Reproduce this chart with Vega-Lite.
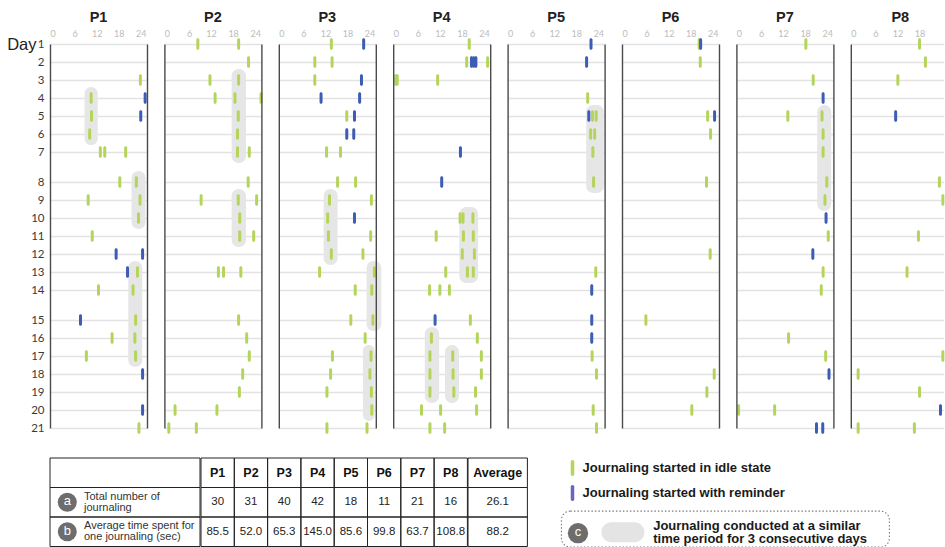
{
"$schema": "https://vega.github.io/schema/vega-lite/v6.json",
"background": "white",
"padding": {"left": 6, "top": 9, "right": 0, "bottom": 0},
"spacing": 21,
"resolve": {"scale": {"color": "independent"}},
"config": {
  "view": {"stroke": null},
  "font": "Liberation Sans",
  "title": {"fontSize": 14.5, "fontWeight": "bold", "font": "Liberation Sans", "color": "#222", "offset": 4, "anchor": "middle", "frame": "group"},
  "axisX": {"ticks": false, "domain": false, "tickSize": 0, "labelFont": "Lato", "labelFontSize": 9, "labelColor": "#bcbcbc", "labelPadding": 2, "labelFlush": false, "labelOverlap": false, "gridWidth": 1.4},
  "axisY": {"ticks": false, "domain": false, "tickSize": 0, "grid": true, "gridColor": "#e3e3e3", "gridWidth": 1.3, "labelFont": "Lato", "labelFontSize": 11.5, "labelColor": "#3a3a3a", "labelPadding": 6, "labelOverlap": false}
},
"datasets": {
  "ticks": [
    {"p":"P1","day":3,"hour":23.9,"type":"i"},
    {"p":"P1","day":4,"hour":10.5,"type":"i"},{"p":"P1","day":4,"hour":25.2,"type":"r"},
    {"p":"P1","day":5,"hour":10.6,"type":"i"},{"p":"P1","day":5,"hour":24.0,"type":"r"},
    {"p":"P1","day":6,"hour":10.1,"type":"i"},
    {"p":"P1","day":7,"hour":13.0,"type":"i"},{"p":"P1","day":7,"hour":14.2,"type":"i"},{"p":"P1","day":7,"hour":19.9,"type":"i"},
    {"p":"P1","day":8,"hour":18.3,"type":"i"},{"p":"P1","day":8,"hour":22.8,"type":"i"},
    {"p":"P1","day":9,"hour":9.7,"type":"i"},{"p":"P1","day":9,"hour":23.8,"type":"i"},
    {"p":"P1","day":10,"hour":23.4,"type":"i"},
    {"p":"P1","day":11,"hour":10.8,"type":"i"},
    {"p":"P1","day":12,"hour":17.3,"type":"r"},{"p":"P1","day":12,"hour":24.5,"type":"r"},
    {"p":"P1","day":13,"hour":20.4,"type":"r"},{"p":"P1","day":13,"hour":23.1,"type":"i"},
    {"p":"P1","day":14,"hour":12.5,"type":"i"},{"p":"P1","day":14,"hour":21.9,"type":"i"},
    {"p":"P1","day":15,"hour":7.6,"type":"r"},{"p":"P1","day":15,"hour":22.6,"type":"i"},
    {"p":"P1","day":16,"hour":16.2,"type":"i"},{"p":"P1","day":16,"hour":22.4,"type":"i"},
    {"p":"P1","day":17,"hour":9.2,"type":"i"},{"p":"P1","day":17,"hour":22.6,"type":"i"},
    {"p":"P1","day":18,"hour":24.5,"type":"r"},
    {"p":"P1","day":20,"hour":24.5,"type":"r"},
    {"p":"P1","day":21,"hour":23.5,"type":"i"},

    {"p":"P2","day":1,"hour":8.4,"type":"i"},{"p":"P2","day":1,"hour":19.5,"type":"i"},
    {"p":"P2","day":2,"hour":22.2,"type":"i"},
    {"p":"P2","day":3,"hour":11.7,"type":"i"},{"p":"P2","day":3,"hour":19.5,"type":"i"},
    {"p":"P2","day":4,"hour":13.1,"type":"i"},{"p":"P2","day":4,"hour":18.5,"type":"i"},{"p":"P2","day":4,"hour":25.6,"type":"i"},
    {"p":"P2","day":5,"hour":19.4,"type":"i"},
    {"p":"P2","day":6,"hour":19.2,"type":"i"},
    {"p":"P2","day":7,"hour":19.2,"type":"i"},{"p":"P2","day":7,"hour":22.4,"type":"i"},
    {"p":"P2","day":8,"hour":22.1,"type":"i"},
    {"p":"P2","day":9,"hour":9.3,"type":"i"},{"p":"P2","day":9,"hour":19.4,"type":"i"},{"p":"P2","day":9,"hour":24.4,"type":"i"},
    {"p":"P2","day":10,"hour":19.8,"type":"i"},
    {"p":"P2","day":11,"hour":19.8,"type":"i"},{"p":"P2","day":11,"hour":23.6,"type":"i"},
    {"p":"P2","day":13,"hour":14.0,"type":"i"},{"p":"P2","day":13,"hour":15.4,"type":"i"},{"p":"P2","day":13,"hour":20.1,"type":"i"},
    {"p":"P2","day":15,"hour":19.5,"type":"i"},
    {"p":"P2","day":16,"hour":21.7,"type":"i"},
    {"p":"P2","day":17,"hour":22.4,"type":"i"},
    {"p":"P2","day":18,"hour":20.6,"type":"i"},
    {"p":"P2","day":19,"hour":19.7,"type":"i"},
    {"p":"P2","day":20,"hour":2.2,"type":"i"},{"p":"P2","day":20,"hour":13.6,"type":"i"},
    {"p":"P2","day":21,"hour":0.5,"type":"i"},{"p":"P2","day":21,"hour":8.0,"type":"i"},

    {"p":"P3","day":1,"hour":13.6,"type":"i"},{"p":"P3","day":1,"hour":22.4,"type":"r"},
    {"p":"P3","day":2,"hour":9.1,"type":"i"},{"p":"P3","day":2,"hour":13.8,"type":"i"},
    {"p":"P3","day":3,"hour":9.1,"type":"i"},{"p":"P3","day":3,"hour":21.8,"type":"r"},
    {"p":"P3","day":4,"hour":10.8,"type":"r"},{"p":"P3","day":4,"hour":21.3,"type":"r"},
    {"p":"P3","day":5,"hour":17.8,"type":"i"},{"p":"P3","day":5,"hour":19.9,"type":"r"},
    {"p":"P3","day":6,"hour":17.8,"type":"r"},{"p":"P3","day":6,"hour":19.7,"type":"r"},
    {"p":"P3","day":7,"hour":12.3,"type":"i"},{"p":"P3","day":7,"hour":16.1,"type":"i"},
    {"p":"P3","day":8,"hour":15.3,"type":"i"},{"p":"P3","day":8,"hour":20.2,"type":"i"},
    {"p":"P3","day":9,"hour":13.1,"type":"i"},{"p":"P3","day":9,"hour":24.5,"type":"i"},
    {"p":"P3","day":10,"hour":12.6,"type":"i"},{"p":"P3","day":10,"hour":19.9,"type":"r"},
    {"p":"P3","day":11,"hour":12.8,"type":"i"},{"p":"P3","day":11,"hour":24.3,"type":"i"},
    {"p":"P3","day":12,"hour":13.6,"type":"i"},{"p":"P3","day":12,"hour":22.2,"type":"i"},
    {"p":"P3","day":13,"hour":10.4,"type":"i"},{"p":"P3","day":13,"hour":25.3,"type":"i"},
    {"p":"P3","day":14,"hour":20.1,"type":"i"},{"p":"P3","day":14,"hour":24.6,"type":"i"},
    {"p":"P3","day":15,"hour":18.9,"type":"i"},{"p":"P3","day":15,"hour":24.9,"type":"i"},
    {"p":"P3","day":16,"hour":22.8,"type":"i"},
    {"p":"P3","day":17,"hour":13.9,"type":"i"},{"p":"P3","day":17,"hour":24.4,"type":"i"},
    {"p":"P3","day":18,"hour":13.4,"type":"i"},{"p":"P3","day":18,"hour":24.1,"type":"i"},
    {"p":"P3","day":19,"hour":12.4,"type":"i"},{"p":"P3","day":19,"hour":24.5,"type":"i"},
    {"p":"P3","day":20,"hour":24.6,"type":"i"},
    {"p":"P3","day":21,"hour":12.4,"type":"i"},{"p":"P3","day":21,"hour":23.3,"type":"i"},

    {"p":"P4","day":1,"hour":20.0,"type":"i"},
    {"p":"P4","day":2,"hour":19.3,"type":"i"},{"p":"P4","day":2,"hour":20.6,"type":"r"},{"p":"P4","day":2,"hour":21.2,"type":"r"},{"p":"P4","day":2,"hour":21.8,"type":"r"},{"p":"P4","day":2,"hour":25.0,"type":"i"},
    {"p":"P4","day":3,"hour":0.0,"type":"i"},{"p":"P4","day":3,"hour":0.4,"type":"i"},{"p":"P4","day":3,"hour":11.4,"type":"i"},
    {"p":"P4","day":7,"hour":17.6,"type":"r"},
    {"p":"P4","day":8,"hour":12.5,"type":"r"},
    {"p":"P4","day":10,"hour":17.5,"type":"i"},{"p":"P4","day":10,"hour":18.3,"type":"i"},{"p":"P4","day":10,"hour":21.0,"type":"i"},
    {"p":"P4","day":11,"hour":11.0,"type":"i"},{"p":"P4","day":11,"hour":18.4,"type":"i"},{"p":"P4","day":11,"hour":21.1,"type":"i"},
    {"p":"P4","day":12,"hour":18.1,"type":"i"},{"p":"P4","day":12,"hour":21.4,"type":"i"},
    {"p":"P4","day":13,"hour":13.6,"type":"i"},{"p":"P4","day":13,"hour":19.5,"type":"i"},{"p":"P4","day":13,"hour":21.1,"type":"i"},
    {"p":"P4","day":14,"hour":9.2,"type":"i"},{"p":"P4","day":14,"hour":12.0,"type":"i"},{"p":"P4","day":14,"hour":14.6,"type":"i"},
    {"p":"P4","day":15,"hour":10.7,"type":"r"},{"p":"P4","day":15,"hour":20.3,"type":"i"},
    {"p":"P4","day":16,"hour":9.7,"type":"i"},{"p":"P4","day":16,"hour":22.2,"type":"i"},
    {"p":"P4","day":17,"hour":9.3,"type":"i"},{"p":"P4","day":17,"hour":15.5,"type":"i"},{"p":"P4","day":17,"hour":23.3,"type":"i"},
    {"p":"P4","day":18,"hour":9.3,"type":"i"},{"p":"P4","day":18,"hour":15.6,"type":"i"},{"p":"P4","day":18,"hour":23.3,"type":"i"},
    {"p":"P4","day":19,"hour":9.3,"type":"i"},{"p":"P4","day":19,"hour":15.8,"type":"i"},{"p":"P4","day":19,"hour":21.7,"type":"i"},
    {"p":"P4","day":20,"hour":7.0,"type":"i"},{"p":"P4","day":20,"hour":12.2,"type":"i"},{"p":"P4","day":20,"hour":22.0,"type":"i"},
    {"p":"P4","day":21,"hour":9.3,"type":"i"},{"p":"P4","day":21,"hour":13.3,"type":"i"},

    {"p":"P5","day":1,"hour":22.0,"type":"r"},
    {"p":"P5","day":2,"hour":20.8,"type":"r"},
    {"p":"P5","day":4,"hour":21.1,"type":"i"},
    {"p":"P5","day":5,"hour":21.4,"type":"r"},{"p":"P5","day":5,"hour":22.4,"type":"i"},{"p":"P5","day":5,"hour":23.4,"type":"i"},
    {"p":"P5","day":6,"hour":21.9,"type":"i"},{"p":"P5","day":6,"hour":23.0,"type":"i"},
    {"p":"P5","day":7,"hour":22.5,"type":"i"},
    {"p":"P5","day":8,"hour":22.7,"type":"i"},
    {"p":"P5","day":13,"hour":23.3,"type":"i"},
    {"p":"P5","day":14,"hour":22.2,"type":"r"},
    {"p":"P5","day":15,"hour":22.2,"type":"r"},
    {"p":"P5","day":16,"hour":22.2,"type":"r"},
    {"p":"P5","day":17,"hour":22.3,"type":"i"},
    {"p":"P5","day":18,"hour":23.5,"type":"i"},
    {"p":"P5","day":20,"hour":22.6,"type":"i"},
    {"p":"P5","day":21,"hour":23.5,"type":"i"},

    {"p":"P6","day":1,"hour":20.3,"type":"i"},{"p":"P6","day":1,"hour":20.7,"type":"r"},
    {"p":"P6","day":2,"hour":20.6,"type":"i"},
    {"p":"P6","day":5,"hour":22.6,"type":"i"},{"p":"P6","day":5,"hour":24.5,"type":"r"},
    {"p":"P6","day":6,"hour":23.4,"type":"i"},
    {"p":"P6","day":8,"hour":22.3,"type":"i"},
    {"p":"P6","day":12,"hour":23.3,"type":"i"},
    {"p":"P6","day":15,"hour":5.8,"type":"i"},
    {"p":"P6","day":18,"hour":24.4,"type":"i"},
    {"p":"P6","day":19,"hour":22.4,"type":"i"},
    {"p":"P6","day":20,"hour":18.3,"type":"i"},

    {"p":"P7","day":1,"hour":18.2,"type":"i"},
    {"p":"P7","day":3,"hour":20.2,"type":"i"},
    {"p":"P7","day":4,"hour":22.9,"type":"r"},
    {"p":"P7","day":5,"hour":13.3,"type":"i"},{"p":"P7","day":5,"hour":22.6,"type":"i"},
    {"p":"P7","day":6,"hour":22.9,"type":"i"},
    {"p":"P7","day":7,"hour":22.9,"type":"i"},
    {"p":"P7","day":8,"hour":23.9,"type":"i"},
    {"p":"P7","day":9,"hour":23.4,"type":"i"},
    {"p":"P7","day":10,"hour":23.7,"type":"r"},
    {"p":"P7","day":11,"hour":24.3,"type":"i"},
    {"p":"P7","day":12,"hour":20.1,"type":"r"},
    {"p":"P7","day":13,"hour":22.9,"type":"i"},
    {"p":"P7","day":14,"hour":22.4,"type":"i"},
    {"p":"P7","day":16,"hour":13.5,"type":"i"},
    {"p":"P7","day":17,"hour":23.6,"type":"i"},
    {"p":"P7","day":18,"hour":24.5,"type":"r"},
    {"p":"P7","day":20,"hour":-0.1,"type":"i"},{"p":"P7","day":20,"hour":9.7,"type":"i"},
    {"p":"P7","day":21,"hour":21.1,"type":"r"},{"p":"P7","day":21,"hour":22.8,"type":"r"},

    {"p":"P8","day":1,"hour":18.0,"type":"i"},
    {"p":"P8","day":2,"hour":19.6,"type":"i"},
    {"p":"P8","day":3,"hour":12.1,"type":"i"},
    {"p":"P8","day":5,"hour":11.5,"type":"r"},
    {"p":"P8","day":8,"hour":23.4,"type":"i"},
    {"p":"P8","day":9,"hour":24.35,"type":"i"},
    {"p":"P8","day":11,"hour":17.7,"type":"i"},
    {"p":"P8","day":13,"hour":14.6,"type":"i"},
    {"p":"P8","day":17,"hour":24.35,"type":"i"},
    {"p":"P8","day":18,"hour":1.3,"type":"i"},
    {"p":"P8","day":19,"hour":18.0,"type":"i"},
    {"p":"P8","day":20,"hour":23.7,"type":"r"},
    {"p":"P8","day":21,"hour":1.3,"type":"i"},{"p":"P8","day":21,"hour":16.6,"type":"i"}
  ],
  "highlights": [
    {"p":"P1","day":4,"day2":6,"hour":8.7,"hour2":12.3},
    {"p":"P1","day":8,"day2":10,"hour":21.5,"hour2":25.3},
    {"p":"P1","day":13,"day2":17,"hour":20.6,"hour2":24.4},
    {"p":"P2","day":3,"day2":7,"hour":17.6,"hour2":21.5},
    {"p":"P2","day":9,"day2":11,"hour":17.6,"hour2":21.5},
    {"p":"P3","day":9,"day2":12,"hour":11.5,"hour2":15.3},
    {"p":"P3","day":13,"day2":15,"hour":23.2,"hour2":27.2},
    {"p":"P3","day":17,"day2":20,"hour":22.2,"hour2":25.4},
    {"p":"P4","day":10,"day2":13,"hour":17.3,"hour2":22.4},
    {"p":"P4","day":16,"day2":19,"hour":7.9,"hour2":11.8},
    {"p":"P4","day":17,"day2":19,"hour":13.4,"hour2":17.2},
    {"p":"P5","day":5,"day2":8,"hour":20.7,"hour2":25.5},
    {"p":"P7","day":5,"day2":9,"hour":21.3,"hour2":25.1}
  ],
  "table": [
    {"col":"P1","row":"h","value":"P1"},{"col":"P1","row":"a","value":"30"},{"col":"P1","row":"b","value":"85.5"},
    {"col":"P2","row":"h","value":"P2"},{"col":"P2","row":"a","value":"31"},{"col":"P2","row":"b","value":"52.0"},
    {"col":"P3","row":"h","value":"P3"},{"col":"P3","row":"a","value":"40"},{"col":"P3","row":"b","value":"65.3"},
    {"col":"P4","row":"h","value":"P4"},{"col":"P4","row":"a","value":"42"},{"col":"P4","row":"b","value":"145.0"},
    {"col":"P5","row":"h","value":"P5"},{"col":"P5","row":"a","value":"18"},{"col":"P5","row":"b","value":"85.6"},
    {"col":"P6","row":"h","value":"P6"},{"col":"P6","row":"a","value":"11"},{"col":"P6","row":"b","value":"99.8"},
    {"col":"P7","row":"h","value":"P7"},{"col":"P7","row":"a","value":"21"},{"col":"P7","row":"b","value":"63.7"},
    {"col":"P8","row":"h","value":"P8"},{"col":"P8","row":"a","value":"16"},{"col":"P8","row":"b","value":"108.8"},
    {"col":"Average","row":"h","value":"Average"},{"col":"Average","row":"a","value":"26.1"},{"col":"Average","row":"b","value":"88.2"}
  ],
  "rowlabels": [
    {"col":"label","row":"h","letter":"","label":""},
    {"col":"label","row":"a","letter":"a","label":"Total number of\njournaling"},
    {"col":"label","row":"b","letter":"b","label":"Average time spent for\none journaling (sec)"}
  ],
  "legend": [
    {"item":"idle","label":"Journaling started in idle state"},
    {"item":"reminder","label":"Journaling started with reminder"}
  ],
  "note": [
    {"letter":"c","label":"Journaling conducted at a similar\ntime period for 3 consecutive days"}
  ]
},
"vconcat": [
  {"hconcat": [
    {"width": 97, "height": 396, "title": {"text": "P1"},
     "encoding": {
       "x": {"field": "hour", "type": "quantitative", "scale": {"domain": [-0.7, 25.7], "nice": false, "zero": false},
             "axis": {"orient": "top", "values": [-0.7,0,6,12,18,24,25.7], "grid": true, "zindex": 1, "title": null,
                      "labelExpr": "datum.value < 0 || datum.value > 24.5 ? '' : datum.label",
                      "gridColor": {"condition": {"test": "datum.value < 0 || datum.value > 24.5", "value": "#4a4a4a"}, "value": "transparent"}}},
       "y": {"field": "day", "type": "quantitative", "scale": {"domain": [1,7,8,14,15,21], "range": [4,112,142,250,280,388], "nice": false, "zero": false},
             "axis": {"values": [1,2,3,4,5,6,7,8,9,10,11,12,13,14,15,16,17,18,19,20,21], "title": "Day", "titleAngle": 0, "titleAlign": "right", "titleBaseline": "middle", "titleX": -14, "titleY": 4, "titleFontSize": 16.5, "titleFontWeight": "normal", "titleFont": "Liberation Sans", "titleColor": "#222"}}
     },
     "layer": [
       {"data": {"name": "highlights"}, "transform": [{"filter": "datum.p === 'P1'"}], "mark": {"type": "rect", "cornerRadius": 7, "fill": "#e6e6e6", "yOffset": -11, "y2Offset": 11}, "encoding": {"x2": {"field": "hour2"}, "y2": {"field": "day2"}}},
       {"data": {"name": "ticks"}, "transform": [{"filter": "datum.p === 'P1'"}], "mark": {"type": "tick", "orient": "vertical", "thickness": 3, "size": 11.5, "cornerRadius": 1.5, "opacity": 1}, "encoding": {"color": {"field": "type", "type": "nominal", "scale": {"domain": ["i","r"], "range": ["#b5d45a","#3c5cb5"]}, "legend": null}}}
     ]},
    {"width": 97, "height": 396, "title": {"text": "P2"},
     "encoding": {
       "x": {"field": "hour", "type": "quantitative", "scale": {"domain": [-0.7, 25.7], "nice": false, "zero": false},
             "axis": {"orient": "top", "values": [-0.7,0,6,12,18,24,25.7], "grid": true, "zindex": 1, "title": null,
                      "labelExpr": "datum.value < 0 || datum.value > 24.5 ? '' : datum.label",
                      "gridColor": {"condition": {"test": "datum.value < 0 || datum.value > 24.5", "value": "#4a4a4a"}, "value": "transparent"}}},
       "y": {"field": "day", "type": "quantitative", "scale": {"domain": [1,7,8,14,15,21], "range": [4,112,142,250,280,388], "nice": false, "zero": false},
             "axis": {"values": [1,2,3,4,5,6,7,8,9,10,11,12,13,14,15,16,17,18,19,20,21], "labels": false, "title": null}}
     },
     "layer": [
       {"data": {"name": "highlights"}, "transform": [{"filter": "datum.p === 'P2'"}], "mark": {"type": "rect", "cornerRadius": 7, "fill": "#e6e6e6", "yOffset": -11, "y2Offset": 11}, "encoding": {"x2": {"field": "hour2"}, "y2": {"field": "day2"}}},
       {"data": {"name": "ticks"}, "transform": [{"filter": "datum.p === 'P2'"}], "mark": {"type": "tick", "orient": "vertical", "thickness": 3, "size": 11.5, "cornerRadius": 1.5, "opacity": 1}, "encoding": {"color": {"field": "type", "type": "nominal", "scale": {"domain": ["i","r"], "range": ["#b5d45a","#3c5cb5"]}, "legend": null}}}
     ]},
    {"width": 97, "height": 396, "title": {"text": "P3"},
     "encoding": {
       "x": {"field": "hour", "type": "quantitative", "scale": {"domain": [-0.7, 25.7], "nice": false, "zero": false},
             "axis": {"orient": "top", "values": [-0.7,0,6,12,18,24,25.7], "grid": true, "zindex": 1, "title": null,
                      "labelExpr": "datum.value < 0 || datum.value > 24.5 ? '' : datum.label",
                      "gridColor": {"condition": {"test": "datum.value < 0 || datum.value > 24.5", "value": "#4a4a4a"}, "value": "transparent"}}},
       "y": {"field": "day", "type": "quantitative", "scale": {"domain": [1,7,8,14,15,21], "range": [4,112,142,250,280,388], "nice": false, "zero": false},
             "axis": {"values": [1,2,3,4,5,6,7,8,9,10,11,12,13,14,15,16,17,18,19,20,21], "labels": false, "title": null}}
     },
     "layer": [
       {"data": {"name": "highlights"}, "transform": [{"filter": "datum.p === 'P3'"}], "mark": {"type": "rect", "cornerRadius": 7, "fill": "#e6e6e6", "yOffset": -11, "y2Offset": 11}, "encoding": {"x2": {"field": "hour2"}, "y2": {"field": "day2"}}},
       {"data": {"name": "ticks"}, "transform": [{"filter": "datum.p === 'P3'"}], "mark": {"type": "tick", "orient": "vertical", "thickness": 3, "size": 11.5, "cornerRadius": 1.5, "opacity": 1}, "encoding": {"color": {"field": "type", "type": "nominal", "scale": {"domain": ["i","r"], "range": ["#b5d45a","#3c5cb5"]}, "legend": null}}}
     ]},
    {"width": 97, "height": 396, "title": {"text": "P4"},
     "encoding": {
       "x": {"field": "hour", "type": "quantitative", "scale": {"domain": [-0.7, 25.7], "nice": false, "zero": false},
             "axis": {"orient": "top", "values": [-0.7,0,6,12,18,24,25.7], "grid": true, "zindex": 1, "title": null,
                      "labelExpr": "datum.value < 0 || datum.value > 24.5 ? '' : datum.label",
                      "gridColor": {"condition": {"test": "datum.value < 0 || datum.value > 24.5", "value": "#4a4a4a"}, "value": "transparent"}}},
       "y": {"field": "day", "type": "quantitative", "scale": {"domain": [1,7,8,14,15,21], "range": [4,112,142,250,280,388], "nice": false, "zero": false},
             "axis": {"values": [1,2,3,4,5,6,7,8,9,10,11,12,13,14,15,16,17,18,19,20,21], "labels": false, "title": null}}
     },
     "layer": [
       {"data": {"name": "highlights"}, "transform": [{"filter": "datum.p === 'P4'"}], "mark": {"type": "rect", "cornerRadius": 7, "fill": "#e6e6e6", "yOffset": -11, "y2Offset": 11}, "encoding": {"x2": {"field": "hour2"}, "y2": {"field": "day2"}}},
       {"data": {"name": "ticks"}, "transform": [{"filter": "datum.p === 'P4'"}], "mark": {"type": "tick", "orient": "vertical", "thickness": 3, "size": 11.5, "cornerRadius": 1.5, "opacity": 1}, "encoding": {"color": {"field": "type", "type": "nominal", "scale": {"domain": ["i","r"], "range": ["#b5d45a","#3c5cb5"]}, "legend": null}}}
     ]},
    {"width": 97, "height": 396, "title": {"text": "P5"},
     "encoding": {
       "x": {"field": "hour", "type": "quantitative", "scale": {"domain": [-0.7, 25.7], "nice": false, "zero": false},
             "axis": {"orient": "top", "values": [-0.7,0,6,12,18,24,25.7], "grid": true, "zindex": 1, "title": null,
                      "labelExpr": "datum.value < 0 || datum.value > 24.5 ? '' : datum.label",
                      "gridColor": {"condition": {"test": "datum.value < 0 || datum.value > 24.5", "value": "#4a4a4a"}, "value": "transparent"}}},
       "y": {"field": "day", "type": "quantitative", "scale": {"domain": [1,7,8,14,15,21], "range": [4,112,142,250,280,388], "nice": false, "zero": false},
             "axis": {"values": [1,2,3,4,5,6,7,8,9,10,11,12,13,14,15,16,17,18,19,20,21], "labels": false, "title": null}}
     },
     "layer": [
       {"data": {"name": "highlights"}, "transform": [{"filter": "datum.p === 'P5'"}], "mark": {"type": "rect", "cornerRadius": 7, "fill": "#e6e6e6", "yOffset": -11, "y2Offset": 11}, "encoding": {"x2": {"field": "hour2"}, "y2": {"field": "day2"}}},
       {"data": {"name": "ticks"}, "transform": [{"filter": "datum.p === 'P5'"}], "mark": {"type": "tick", "orient": "vertical", "thickness": 3, "size": 11.5, "cornerRadius": 1.5, "opacity": 1}, "encoding": {"color": {"field": "type", "type": "nominal", "scale": {"domain": ["i","r"], "range": ["#b5d45a","#3c5cb5"]}, "legend": null}}}
     ]},
    {"width": 97, "height": 396, "title": {"text": "P6"},
     "encoding": {
       "x": {"field": "hour", "type": "quantitative", "scale": {"domain": [-0.7, 25.7], "nice": false, "zero": false},
             "axis": {"orient": "top", "values": [-0.7,0,6,12,18,24,25.7], "grid": true, "zindex": 1, "title": null,
                      "labelExpr": "datum.value < 0 || datum.value > 24.5 ? '' : datum.label",
                      "gridColor": {"condition": {"test": "datum.value < 0 || datum.value > 24.5", "value": "#4a4a4a"}, "value": "transparent"}}},
       "y": {"field": "day", "type": "quantitative", "scale": {"domain": [1,7,8,14,15,21], "range": [4,112,142,250,280,388], "nice": false, "zero": false},
             "axis": {"values": [1,2,3,4,5,6,7,8,9,10,11,12,13,14,15,16,17,18,19,20,21], "labels": false, "title": null}}
     },
     "layer": [
       {"data": {"name": "highlights"}, "transform": [{"filter": "datum.p === 'P6'"}], "mark": {"type": "rect", "cornerRadius": 7, "fill": "#e6e6e6", "yOffset": -11, "y2Offset": 11}, "encoding": {"x2": {"field": "hour2"}, "y2": {"field": "day2"}}},
       {"data": {"name": "ticks"}, "transform": [{"filter": "datum.p === 'P6'"}], "mark": {"type": "tick", "orient": "vertical", "thickness": 3, "size": 11.5, "cornerRadius": 1.5, "opacity": 1}, "encoding": {"color": {"field": "type", "type": "nominal", "scale": {"domain": ["i","r"], "range": ["#b5d45a","#3c5cb5"]}, "legend": null}}}
     ]},
    {"width": 97, "height": 396, "title": {"text": "P7"},
     "encoding": {
       "x": {"field": "hour", "type": "quantitative", "scale": {"domain": [-0.7, 25.7], "nice": false, "zero": false},
             "axis": {"orient": "top", "values": [-0.7,0,6,12,18,24,25.7], "grid": true, "zindex": 1, "title": null,
                      "labelExpr": "datum.value < 0 || datum.value > 24.5 ? '' : datum.label",
                      "gridColor": {"condition": {"test": "datum.value < 0 || datum.value > 24.5", "value": "#4a4a4a"}, "value": "transparent"}}},
       "y": {"field": "day", "type": "quantitative", "scale": {"domain": [1,7,8,14,15,21], "range": [4,112,142,250,280,388], "nice": false, "zero": false},
             "axis": {"values": [1,2,3,4,5,6,7,8,9,10,11,12,13,14,15,16,17,18,19,20,21], "labels": false, "title": null}}
     },
     "layer": [
       {"data": {"name": "highlights"}, "transform": [{"filter": "datum.p === 'P7'"}], "mark": {"type": "rect", "cornerRadius": 7, "fill": "#e6e6e6", "yOffset": -11, "y2Offset": 11}, "encoding": {"x2": {"field": "hour2"}, "y2": {"field": "day2"}}},
       {"data": {"name": "ticks"}, "transform": [{"filter": "datum.p === 'P7'"}], "mark": {"type": "tick", "orient": "vertical", "thickness": 3, "size": 11.5, "cornerRadius": 1.5, "opacity": 1}, "encoding": {"color": {"field": "type", "type": "nominal", "scale": {"domain": ["i","r"], "range": ["#b5d45a","#3c5cb5"]}, "legend": null}}}
     ]},
    {"width": 93, "height": 396, "title": {"text": "P8", "dx": 3},
     "encoding": {
       "x": {"field": "hour", "type": "quantitative", "scale": {"domain": [-0.7, 24.6], "nice": false, "zero": false},
             "axis": {"orient": "top", "values": [-0.7,0,6,12,18], "grid": true, "zindex": 1, "title": null,
                      "labelExpr": "datum.value < 0 ? '' : datum.label",
                      "gridColor": {"condition": {"test": "datum.value < 0", "value": "#4a4a4a"}, "value": "transparent"}}},
       "y": {"field": "day", "type": "quantitative", "scale": {"domain": [1,7,8,14,15,21], "range": [4,112,142,250,280,388], "nice": false, "zero": false},
             "axis": {"values": [1,2,3,4,5,6,7,8,9,10,11,12,13,14,15,16,17,18,19,20,21], "labels": false, "title": null}}
     },
     "layer": [
       {"data": {"name": "highlights"}, "transform": [{"filter": "datum.p === 'P8'"}], "mark": {"type": "rect", "cornerRadius": 7, "fill": "#e6e6e6", "yOffset": -11, "y2Offset": 11}, "encoding": {"x2": {"field": "hour2"}, "y2": {"field": "day2"}}},
       {"data": {"name": "ticks"}, "transform": [{"filter": "datum.p === 'P8'"}], "mark": {"type": "tick", "orient": "vertical", "thickness": 3, "size": 11.5, "cornerRadius": 1.5, "opacity": 1}, "encoding": {"color": {"field": "type", "type": "nominal", "scale": {"domain": ["i","r"], "range": ["#b5d45a","#3c5cb5"]}, "legend": null}}}
     ]}
  ], "spacing": 17.4, "bounds": "flush"},
  {"hconcat": [
    {"width": 150, "height": 88.5,
     "data": {"name": "rowlabels"},
     "encoding": {
       "x": {"field": "col", "type": "nominal", "scale": {"paddingInner": 0, "paddingOuter": 0}, "axis": null},
       "y": {"field": "row", "type": "nominal", "scale": {"domain": ["h","a","b"], "paddingInner": 0, "paddingOuter": 0}, "axis": null}
     },
     "layer": [
       {"mark": {"type": "rect", "filled": false, "stroke": "#222", "strokeWidth": 1}},
       {"transform": [{"filter": "datum.row !== 'h'"}], "mark": {"type": "point", "filled": true, "size": 361, "color": "#6d6d6d", "opacity": 1, "xOffset": -57.7}},
       {"transform": [{"filter": "datum.row !== 'h'"}], "mark": {"type": "text", "color": "white", "fontSize": 13, "baseline": "middle", "xOffset": -57.7, "yOffset": -1}, "encoding": {"text": {"field": "letter"}}},
       {"transform": [{"filter": "datum.row !== 'h'"}], "mark": {"type": "text", "align": "left", "baseline": "middle", "lineBreak": "\n", "lineHeight": 10.6, "fontSize": 11, "color": "#333", "xOffset": -41, "yOffset": -5.3}, "encoding": {"text": {"field": "label"}}}
     ]},
    {"width": 266.4, "height": 88.5,
     "data": {"name": "table"},
     "transform": [{"filter": "datum.col !== 'Average'"}],
     "encoding": {
       "x": {"field": "col", "type": "nominal", "scale": {"domain": ["P1","P2","P3","P4","P5","P6","P7","P8"], "paddingInner": 0, "paddingOuter": 0}, "axis": null},
       "y": {"field": "row", "type": "nominal", "scale": {"domain": ["h","a","b"], "paddingInner": 0, "paddingOuter": 0}, "axis": null}
     },
     "layer": [
       {"mark": {"type": "rect", "filled": false, "stroke": "#222", "strokeWidth": 1}},
       {"transform": [{"filter": "datum.row === 'h'"}], "mark": {"type": "text", "fontWeight": "bold", "fontSize": 12.5, "color": "#111"}, "encoding": {"text": {"field": "value"}}},
       {"transform": [{"filter": "datum.row !== 'h'"}], "mark": {"type": "text", "fontSize": 11.5, "color": "#222"}, "encoding": {"text": {"field": "value"}}}
     ]},
    {"width": 59.4, "height": 88.5,
     "data": {"name": "table"},
     "transform": [{"filter": "datum.col === 'Average'"}],
     "encoding": {
       "x": {"field": "col", "type": "nominal", "scale": {"paddingInner": 0, "paddingOuter": 0}, "axis": null},
       "y": {"field": "row", "type": "nominal", "scale": {"domain": ["h","a","b"], "paddingInner": 0, "paddingOuter": 0}, "axis": null}
     },
     "layer": [
       {"mark": {"type": "rect", "filled": false, "stroke": "#222", "strokeWidth": 1}},
       {"transform": [{"filter": "datum.row === 'h'"}], "mark": {"type": "text", "fontWeight": "bold", "fontSize": 12.5, "color": "#111"}, "encoding": {"text": {"field": "value"}}},
       {"transform": [{"filter": "datum.row !== 'h'"}], "mark": {"type": "text", "fontSize": 11.5, "color": "#222"}, "encoding": {"text": {"field": "value"}}}
     ]},
    {"width": 33, "height": 10, "data": {"values": []}, "mark": "point"},
    {"vconcat": [
      {"width": 328, "height": 50,
       "data": {"name": "legend"},
       "encoding": {"y": {"field": "item", "type": "nominal", "scale": {"domain": ["idle","reminder"], "paddingInner": 0, "paddingOuter": 0}, "axis": null}},
       "layer": [
         {"mark": {"type": "point", "filled": true, "opacity": 1, "size": 256, "shape": "M-0.22,-0.78 A0.22,0.22 0 0 1 0.22,-0.78 L0.22,0.78 A0.22,0.22 0 0 1 -0.22,0.78 Z", "xOffset": -152.5, "yOffset": -2.5},
          "encoding": {"color": {"field": "item", "type": "nominal", "scale": {"domain": ["idle","reminder"], "range": ["#b5d45a","#6a64c0"]}, "legend": null}}},
         {"mark": {"type": "text", "align": "left", "baseline": "middle", "fontSize": 13, "fontWeight": "bold", "color": "#1a1a1a", "xOffset": -142.5, "yOffset": -2.5},
          "encoding": {"text": {"field": "label"}}}
       ]},
      {"width": 328, "height": 36,
       "view": {"stroke": "#7a7a7a", "strokeDash": [1.5, 2], "cornerRadius": 9, "strokeWidth": 1.1},
       "data": {"name": "note"},
       "layer": [
         {"mark": {"type": "point", "filled": true, "opacity": 1, "color": "#e4e4e4", "size": 1849, "shape": "M-0.535,-0.465 L0.535,-0.465 A0.465,0.465 0 0 1 0.535,0.465 L-0.535,0.465 A0.465,0.465 0 0 1 -0.535,-0.465 Z", "xOffset": -102.1, "yOffset": 3.5}, "encoding": {}},
         {"mark": {"type": "point", "filled": true, "opacity": 1, "color": "#6d6d6d", "size": 412, "shape": "circle", "xOffset": -147, "yOffset": 4.5}, "encoding": {}},
         {"mark": {"type": "text", "color": "white", "fontSize": 13, "baseline": "middle", "xOffset": -147, "yOffset": 3.5}, "encoding": {"text": {"field": "letter"}}},
         {"mark": {"type": "text", "align": "left", "baseline": "middle", "fontSize": 13, "fontWeight": "bold", "lineBreak": "\n", "lineHeight": 13.5, "color": "#1a1a1a", "xOffset": -71.8, "yOffset": -3}, "encoding": {"text": {"field": "label"}}}
       ]}
    ], "spacing": 1.7}
  ], "spacing": -1}
]
}
